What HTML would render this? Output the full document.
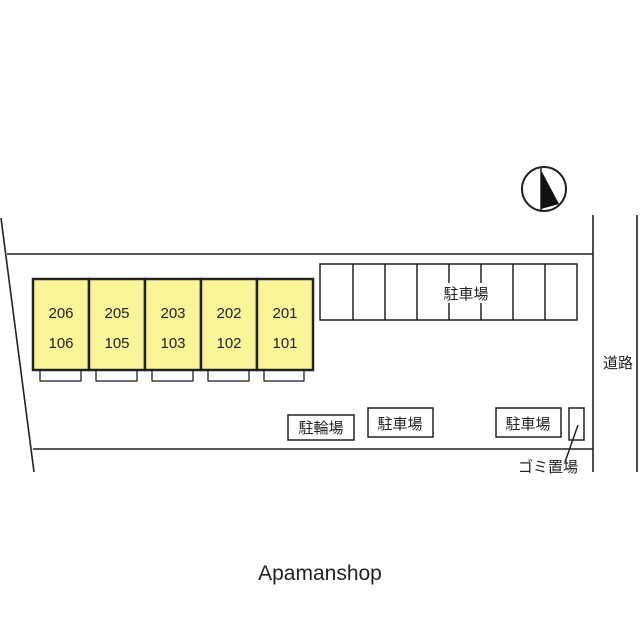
<!DOCTYPE html>
<html><head><meta charset="utf-8"><style>
body{margin:0;background:#fff;}
svg{display:block}
text{font-family:"Liberation Sans","Noto Sans CJK JP",sans-serif;fill:#222}
</style></head><body>
<svg width="640" height="640" viewBox="0 0 640 640">
<g stroke="#222" stroke-width="1.6" fill="none">
<line x1="1" y1="218" x2="34" y2="472"/>
<line x1="7" y1="254" x2="593" y2="254"/>
<line x1="33" y1="449" x2="593" y2="449"/>
<line x1="593" y1="215" x2="593" y2="472"/>
<line x1="637" y1="215" x2="637" y2="472"/>
</g>
<g stroke="#222" stroke-width="1.3" fill="#fff">
<rect x="40" y="370" width="41" height="11"/>
<rect x="96" y="370" width="41" height="11"/>
<rect x="152" y="370" width="41" height="11"/>
<rect x="208" y="370" width="41" height="11"/>
<rect x="264" y="370" width="40" height="11"/>
</g>
<g stroke="#222" stroke-width="2.5" fill="#fbf59a">
<rect x="33" y="279" width="56" height="91"/>
<rect x="89" y="279" width="56" height="91"/>
<rect x="145" y="279" width="56" height="91"/>
<rect x="201" y="279" width="56" height="91"/>
<rect x="257" y="279" width="56" height="91"/>
</g>
<g font-size="15" text-anchor="middle">
<text x="61" y="318">206</text><text x="61" y="348">106</text>
<text x="117" y="318">205</text><text x="117" y="348">105</text>
<text x="173" y="318">203</text><text x="173" y="348">103</text>
<text x="229" y="318">202</text><text x="229" y="348">102</text>
<text x="285" y="318">201</text><text x="285" y="348">101</text>
</g>
<g stroke="#222" stroke-width="1.5" fill="none">
<rect x="320" y="264" width="257" height="56"/>
<line x1="353" y1="264" x2="353" y2="320"/><line x1="385" y1="264" x2="385" y2="320"/>
<line x1="417" y1="264" x2="417" y2="320"/><line x1="449" y1="264" x2="449" y2="320"/>
<line x1="481" y1="264" x2="481" y2="320"/><line x1="513" y1="264" x2="513" y2="320"/>
<line x1="545" y1="264" x2="545" y2="320"/>
<rect x="288" y="415" width="66" height="25"/>
<rect x="368" y="408" width="65" height="29"/>
<rect x="496" y="408" width="65" height="29"/>
<rect x="569" y="408" width="15" height="32"/>
<line x1="578" y1="425" x2="565" y2="462"/>
</g>
<rect x="436" y="283" width="60" height="20" fill="#fff"/>
<g font-size="15" text-anchor="middle">
<text x="466" y="299">駐車場</text>
<text x="321" y="433">駐輪場</text>
<text x="400" y="429">駐車場</text>
<text x="528" y="429">駐車場</text>
<text x="548" y="472">ゴミ置場</text>
<text x="618" y="368">道路</text>
</g>
<circle cx="544" cy="189" r="22" fill="none" stroke="#222" stroke-width="2"/>
<line x1="541" y1="167" x2="541" y2="211" stroke="#222" stroke-width="1.5"/>
<polygon points="541,170 559,204 541,209" fill="#111"/>
<text x="320" y="580" font-size="21" text-anchor="middle" fill="#333">Apamanshop</text>
</svg>
</body></html>
